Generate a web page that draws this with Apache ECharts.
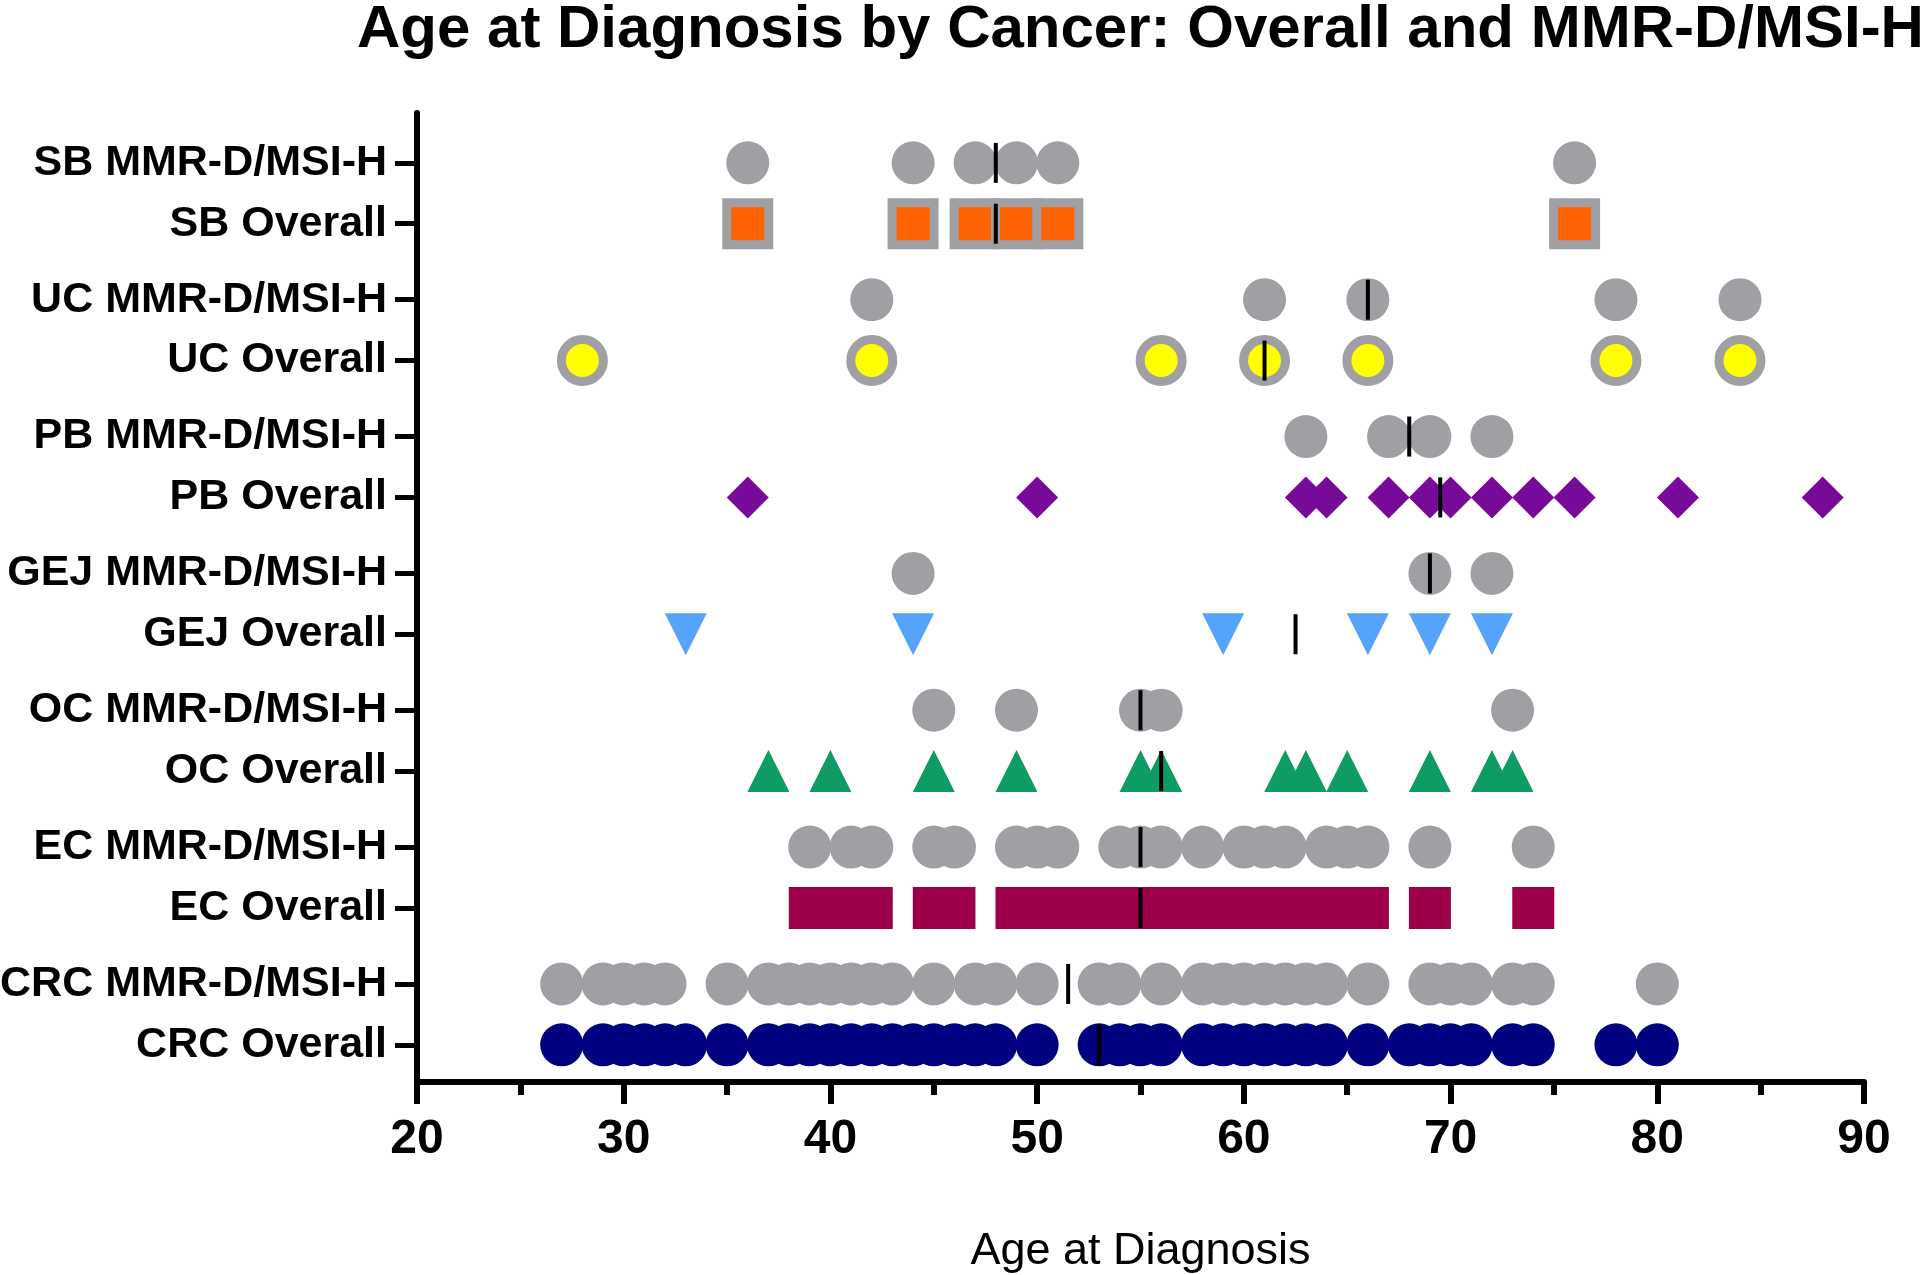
<!DOCTYPE html>
<html>
<head>
<meta charset="utf-8">
<title>Age at Diagnosis by Cancer</title>
<script src="https://cdn.jsdelivr.net/npm/echarts@6.0.0/dist/echarts.min.js"></script>
<style>
  html, body { margin: 0; padding: 0; background: #fff; }
  #chart { width: 1920px; height: 1275px; }
</style>
</head>
<body>
<div id="chart"></div>
<script>
// rows, listed from bottom to top
const rowLabels = [
  'CRC Overall', 'CRC MMR-D/MSI-H',
  'EC Overall', 'EC MMR-D/MSI-H',
  'OC Overall', 'OC MMR-D/MSI-H',
  'GEJ Overall', 'GEJ MMR-D/MSI-H',
  'PB Overall', 'PB MMR-D/MSI-H',
  'UC Overall', 'UC MMR-D/MSI-H',
  'SB Overall', 'SB MMR-D/MSI-H'
];

// ages
const crcOverall = [27, 29, 30, 31, 32, 33, 35, 37, 38, 39, 40, 41, 42, 43, 44, 45, 46, 47, 48, 50,
  53, 54, 55, 56, 58, 59, 60, 61, 62, 63, 64, 66, 68, 69, 70, 71, 73, 74, 78, 80];
const crcMmr = [27, 29, 30, 31, 32, 35, 37, 38, 39, 40, 41, 42, 43, 45, 47, 48, 50,
  53, 54, 56, 58, 59, 60, 61, 62, 63, 64, 66, 69, 70, 71, 73, 74, 80];
const ecOverall = [39, 40, 41, 42, 45, 46, 49, 50, 51, 52, 53, 54, 55, 56, 57, 58, 59, 60, 61, 62,
  63, 64, 65, 66, 69, 74];
const ecMmr = [39, 41, 42, 45, 46, 49, 50, 51, 54, 55, 56, 58, 60, 61, 62, 64, 65, 66, 69, 74];
const ocOverall = [37, 40, 45, 49, 55, 56, 62, 63, 65, 69, 72, 73];
const ocMmr = [45, 49, 55, 56, 73];
const gejOverall = [33, 44, 59, 66, 69, 72];
const gejMmr = [44, 69, 72];
const pbOverall = [36, 50, 63, 64, 67, 69, 70, 72, 74, 76, 81, 88];
const pbMmr = [63, 67, 69, 72];
const ucOverall = [28, 42, 56, 61, 66, 78, 84];
const ucMmr = [42, 61, 66, 78, 84];
const sbOverall = [36, 44, 47, 49, 51, 76];
const sbMmr = [36, 44, 47, 49, 51, 76];

// median bars, same row order
const medians = [53, 51.5, 55, 55, 56, 55, 62.5, 69, 69.5, 68, 61, 66, 48, 48];

const ageTicks = [20, 30, 40, 50, 60, 70, 80, 90];

const rowData = [crcOverall, crcMmr, ecOverall, ecMmr, ocOverall, ocMmr, gejOverall, gejMmr,
  pbOverall, pbMmr, ucOverall, ucMmr, sbOverall, sbMmr];

const GRAY = '#A0A0A4';
const FONT = '"Liberation Sans", Arial, Helvetica, sans-serif';

const rowStyles = [
  { symbol: 'circle', color: '#000080' },
  { symbol: 'circle', color: GRAY },
  { symbol: 'rect', color: '#9D0048', size: 42 },
  { symbol: 'circle', color: GRAY },
  { symbol: 'triangle', color: '#0E9B64', size: 42 },
  { symbol: 'circle', color: GRAY },
  { symbol: 'triangle', color: '#56A3FB', size: 42, rotate: 180 },
  { symbol: 'circle', color: GRAY },
  { symbol: 'diamond', color: '#780A9A', size: 42 },
  { symbol: 'circle', color: GRAY },
  { symbol: 'circle', color: '#FFFF00', size: 42, border: GRAY },
  { symbol: 'circle', color: GRAY },
  { symbol: 'rect', color: '#FF6200', size: 42, border: GRAY },
  { symbol: 'circle', color: GRAY }
];

// pairs of rows sit 2.316 apart, MMR row just above its Overall row
function rowY(i) {
  return 0.63 + 2.316 * Math.floor(i / 2) + (i % 2) * 1.03;
}
const rowPositions = rowLabels.map((_, i) => rowY(i));

function labelFor(v) {
  let best = 0;
  rowPositions.forEach((p, i) => {
    if (Math.abs(p - v) < Math.abs(rowPositions[best] - v)) best = i;
  });
  return rowLabels[best];
}

const series = rowData.map((vals, i) => {
  const st = rowStyles[i];
  return {
    type: 'scatter',
    name: rowLabels[i],
    symbol: st.symbol,
    symbolSize: st.size || 43,
    symbolRotate: st.rotate || 0,
    itemStyle: {
      color: st.color,
      borderColor: st.border || st.color,
      borderWidth: st.border ? 9 : 0,
      opacity: 1
    },
    data: vals.map(v => [v, rowY(i)]),
    z: 2
  };
});

series.push({
  type: 'scatter',
  name: 'Median',
  symbol: 'rect',
  symbolSize: [4, 40],
  itemStyle: { color: '#000', opacity: 1 },
  data: medians.map((m, i) => [m, rowY(i)]),
  z: 5
});

const option = {
  animation: false,
  textStyle: { fontFamily: FONT },
  title: {
    text: 'Age at Diagnosis by Cancer: Overall and MMR-D/MSI-H',
    left: 352,
    top: -5,
    textStyle: { fontSize: 60, fontWeight: 'bold', color: '#000', fontFamily: FONT }
  },
  grid: { left: 417, right: 56, top: 113, bottom: 193, containLabel: false, outerBoundsMode: 'none' },
  xAxis: {
    type: 'value',
    min: ageTicks[0],
    max: ageTicks[ageTicks.length - 1],
    interval: ageTicks[1] - ageTicks[0],
    name: 'Age at Diagnosis',
    nameLocation: 'middle',
    nameGap: 147,
    nameTextStyle: { fontSize: 45, color: '#000', fontFamily: FONT },
    axisLine: { show: true, onZero: false, lineStyle: { color: '#000', width: 6 } },
    axisTick: { show: true, length: 22, lineStyle: { color: '#000', width: 6 } },
    minorTick: { show: true, splitNumber: 2, length: 13, lineStyle: { color: '#000', width: 6 } },
    axisLabel: { fontSize: 48, fontWeight: 'bold', color: '#000', margin: 34, fontFamily: FONT },
    splitLine: { show: false },
    minorSplitLine: { show: false }
  },
  yAxis: {
    type: 'value',
    min: 0,
    max: 16.4,
    axisLine: { show: true, onZero: false, lineStyle: { color: '#000', width: 6 } },
    axisTick: { show: true, customValues: rowPositions, length: 22, lineStyle: { color: '#000', width: 5 } },
    axisLabel: {
      customValues: rowPositions,
      formatter: v => labelFor(v),
      fontSize: 43, fontWeight: 'bold', color: '#000', margin: 30, fontFamily: FONT
    },
    splitLine: { show: false }
  },
  series: series
};

const chart = echarts.init(document.getElementById('chart'), null, { renderer: 'canvas' });
chart.setOption(option);
</script>
</body>
</html>
